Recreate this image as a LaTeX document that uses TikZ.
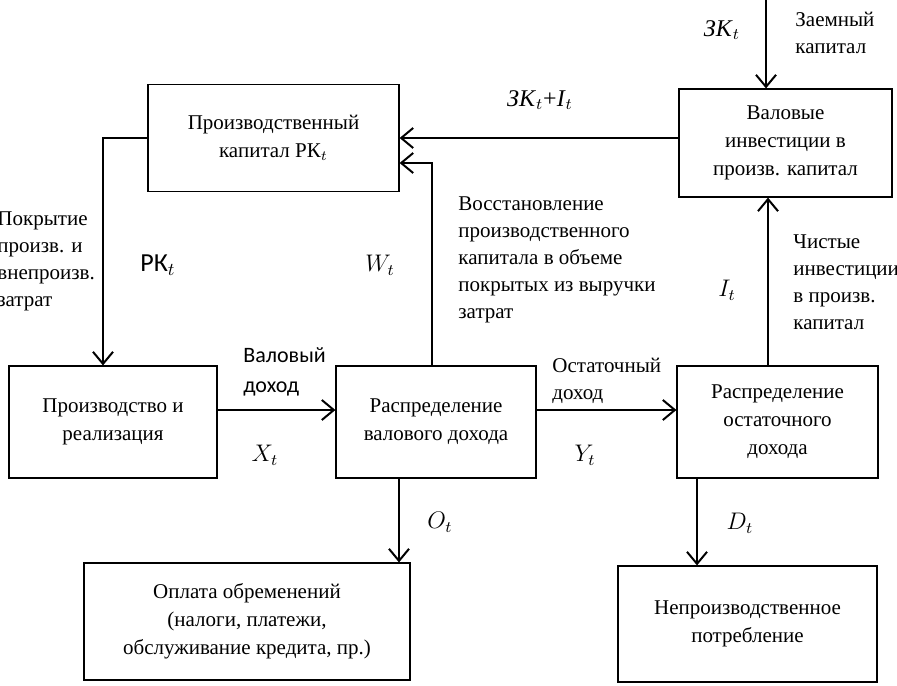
\documentclass[tikz,border=0pt]{standalone}
\usepackage{fontspec}
\setmainfont{Liberation Serif}
\newfontfamily\calib{Carlito}
\usetikzlibrary{arrows.meta}
\begin{document}
\begin{tikzpicture}[x=0.5pt,y=-0.5pt,
  font=\fontsize{10.5}{14}\selectfont,
  box/.style={draw, line width=0.6pt, align=center, inner sep=0pt},
  arr/.style={line width=1pt, -{Straight Barb[length=6pt,width=10pt,line width=1pt]}},
  note/.style={align=left, anchor=west, inner sep=0pt, font=\fontsize{10.5}{13.5}\selectfont},
  sans/.style={align=left, anchor=west, inner sep=0pt, font=\calib\fontsize{11}{15}\selectfont},
  lbl/.style={inner sep=0pt}]
\useasboundingbox (0,0) rectangle (897,685);

% boxes
\node[box, minimum width=125.5pt, minimum height=53.5pt] (PK) at (273.5,138) {Производственный\\капитал РК$_t$};
\node[box, minimum width=106.5pt, minimum height=54pt] (VI) at (785.5,143) {Валовые\\инвестиции в\\произв. капитал};
\node[box, minimum width=104pt, minimum height=56pt] (PR) at (113,422) {Производство и\\реализация};
\node[box, minimum width=100pt, minimum height=56pt] (RVD) at (436,422) {Распределение\\валового дохода};
\node[box, minimum width=100.5pt, minimum height=56pt] (ROD) at (777.5,422) {Распределение\\остаточного\\дохода};
\node[box, minimum width=163pt, minimum height=58.5pt] (OO) at (247,621.5) {Оплата обременений\\(налоги, платежи,\\обслуживание кредита, пр.)};
\node[box, minimum width=129.5pt, minimum height=58pt] (NP) at (747.5,624) {Непроизводственное\\потребление};

% connectors
\coordinate (ZK) at (766,0);
\draw[arr] (ZK) -- (ZK |- VI.north);
\draw[arr] (PK.east -| VI.west) -- (PK.east);
\draw[arr] ([xshift=-2pt]RVD.north) |- ([yshift=-12.5pt]PK.east);
\draw[arr] (PK.west) -| ([xshift=-5pt]PR.north);
\draw[arr] ([yshift=6pt]PR.east) -- ([yshift=6pt]PR.east -| RVD.west);
\draw[arr] ([yshift=6pt]RVD.east) -- ([yshift=6pt]RVD.east -| ROD.west);
\draw[arr] ([xshift=-4.75pt]ROD.north) -- ([xshift=-4.75pt]ROD.north |- VI.south);
\draw[arr] ([xshift=-18.5pt]RVD.south) -- ([xshift=-18.5pt]RVD.south |- OO.north);
\draw[arr, line width=1.4pt] ([xshift=-40.25pt]ROD.south) -- ([xshift=-40.25pt]ROD.south |- NP.north);

% labels
\node[lbl] (lZK) at (722,30) {\large\textit{ЗК}$_t$};
\node[note] (lZaem) at (795,33) {Заемный\\капитал};
\node[lbl] (lZKI) at (540,100) {\large\textit{ЗК}$_t$+\textit{I}$_t$};
\node[note] (lPokr) at (-3,261) {Покрытие\\произв. и\\внепроизв.\\затрат};
\node[lbl] (lPK) at (158,265) {\calib\fontsize{13}{15}\selectfont РК$_t$};
\node[lbl] (lW) at (380,265) {\large $W_t$};
\node[note] (lVosst) at (458,260) {Восстановление\\производственного\\капитала в объеме\\покрытых из выручки\\затрат};
\node[lbl] (lI) at (727,290) {\large $I_t$};
\node[note] (lChist) at (793,282) {Чистые\\инвестиции\\в произв.\\капитал};
\node[sans] (lVal) at (243,372) {Валовый\\доход};
\node[lbl] (lX) at (265,455) {\large $X_t$};
\node[note] (lOst) at (552,381) {Остаточный\\доход};
\node[lbl] (lY) at (585,455) {\large $Y_t$};
\node[lbl] (lO) at (440,522) {\large $O_t$};
\node[lbl] (lD) at (740,523) {\large $D_t$};
\end{tikzpicture}
\end{document}
